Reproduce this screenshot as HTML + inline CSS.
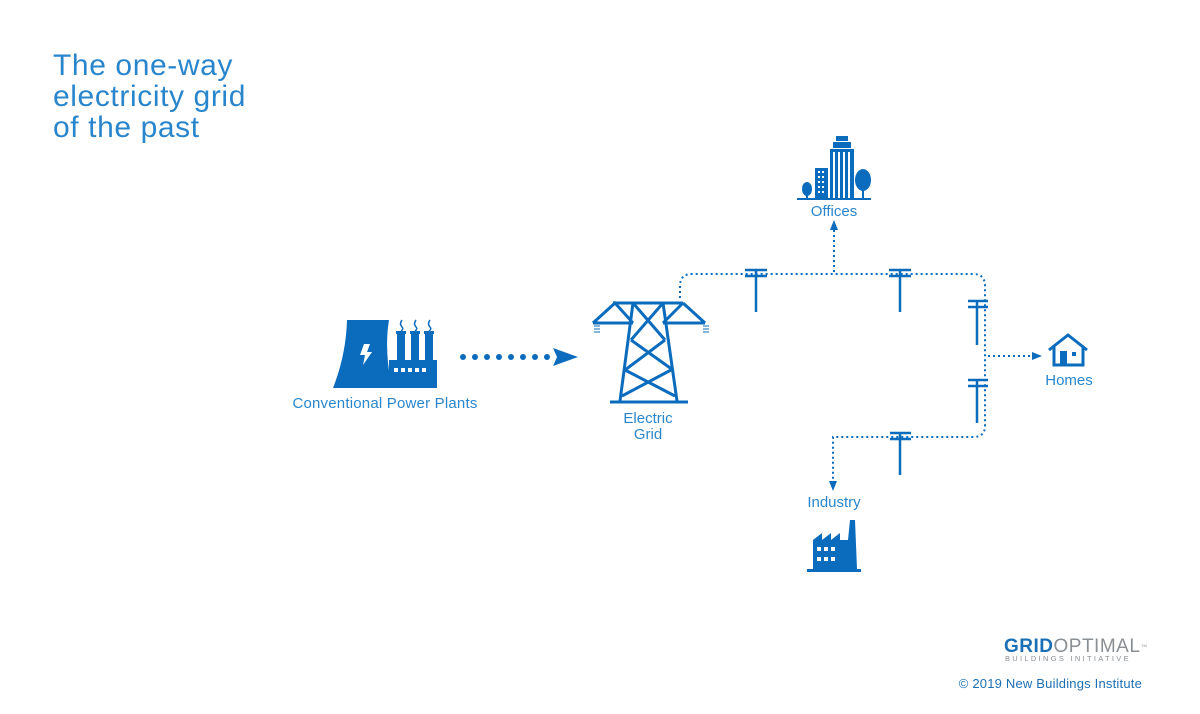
<!DOCTYPE html>
<html><head><meta charset="utf-8"><style>
html,body{margin:0;padding:0;background:#fff;}
svg{display:block;}
text{font-family:"Liberation Sans",Arial,sans-serif;}
</style></head><body>
<svg width="1200" height="714" viewBox="0 0 1200 714" xmlns="http://www.w3.org/2000/svg">
<g fill="#2a86cc" font-size="30" letter-spacing="0.6">
<text x="53" y="75">The one-way</text>
<text x="53" y="106">electricity grid</text>
<text x="53" y="137">of the past</text>
</g>

<!-- power plant -->
<g fill="#0b6cbd">
<path d="M347 320 L389 320 Q384 350 392 388 L333 388 Q346 355 347 320 Z"/>
<rect x="389" y="360" width="48" height="28"/>
<rect x="397" y="332" width="8" height="30"/>
<rect x="411" y="332" width="8" height="30"/>
<rect x="425" y="332" width="8" height="30"/>
<rect x="396" y="331" width="10" height="3"/>
<rect x="410" y="331" width="10" height="3"/>
<rect x="424" y="331" width="10" height="3"/>
</g>
<g fill="none" stroke="#0b6cbd" stroke-width="1.5">
<path d="M402 320 q-3 4 0 7 q2 2 -1 4"/>
<path d="M416 320 q-3 4 0 7 q2 2 -1 4"/>
<path d="M430 320 q-3 4 0 7 q2 2 -1 4"/>
</g>
<g fill="#fff">
<path d="M364 344 L370 344 L367 352 L372 352 L363 365 L365 355 L360 355 Z"/>
<rect x="394" y="368" width="4" height="4"/><rect x="401" y="368" width="4" height="4"/><rect x="408" y="368" width="4" height="4"/><rect x="415" y="368" width="4" height="4"/><rect x="422" y="368" width="4" height="4"/>
</g>
<text x="385" y="408" font-size="15" fill="#2a86cc" text-anchor="middle" letter-spacing="0.2">Conventional Power Plants</text>

<!-- big dotted arrow -->
<g fill="#0b6cbd">
<circle cx="463" cy="357" r="3"/><circle cx="475" cy="357" r="3"/><circle cx="487" cy="357" r="3"/><circle cx="499" cy="357" r="3"/><circle cx="511" cy="357" r="3"/><circle cx="523" cy="357" r="3"/><circle cx="535" cy="357" r="3"/><circle cx="547" cy="357" r="3"/>
<path d="M553 348 L578 357 L553 366 L557 357 Z"/>
</g>

<!-- tower -->
<g fill="none" stroke="#0b6cbd" stroke-width="3" stroke-linejoin="miter">
<path d="M613 303 L683 303"/>
<path d="M593 323 L615 303 L633 323 M683 303 L705 323 M663 323 L683 303"/>
<path d="M593 323 L633 323 M663 323 L705 323"/>
<path d="M633 303 L620 401 M663 303 L677 401"/>
<path d="M633 303 L665 340 M663 303 L631 340"/>
<path d="M631 340 L673 370 M665 340 L625 370"/>
<path d="M625 370 L675 396 M671 370 L622 396"/>
<path d="M610 402 L688 402"/>
</g>
<g stroke="#0b6cbd" stroke-width="1">
<path d="M594 326h6M594 329h6M594 332h6M703 326h6M703 329h6M703 332h6"/>
</g>
<g font-size="15" fill="#2a86cc" text-anchor="middle">
<text x="648" y="423">Electric</text>
<text x="648" y="439">Grid</text>
</g>

<!-- dotted grid lines -->
<g fill="none" stroke="#0b6cbd" stroke-width="2" stroke-dasharray="2 3">
<path d="M680 298 L680 286 Q680 274 692 274 L973 274 Q985 274 985 286 L985 426 Q985 437 973 437 L833 437 L833 482"/>
<path d="M834 272 L834 228"/>
<path d="M988 356 L1034 356"/>
</g>
<g fill="#0b6cbd">
<path d="M830 230 L834 220 L838 230 Z"/>
<path d="M1032 352 L1042 356 L1032 360 Z"/>
<path d="M829 481 L833 491 L837 481 Z"/>
</g>
<!-- poles -->
<g stroke="#0b6cbd" stroke-width="2.5">
<path d="M745 270h22M745 276h22M756 270v42"/>
<path d="M889 270h22M889 276h22M900 270v42"/>
<path d="M968 301h20M968 307h20M977 301v44"/>
<path d="M968 380h20M968 386h20M977 380v43"/>
<path d="M890 433h21M890 439h21M900 433v42"/>
</g>

<!-- offices -->
<g fill="#0b6cbd">
<rect x="797" y="198" width="74" height="2"/>
<rect x="836" y="136" width="12" height="5"/>
<rect x="833" y="142" width="18" height="6"/>
<rect x="830" y="149" width="24" height="49"/>
<rect x="815" y="168" width="13" height="30"/>
<ellipse cx="807" cy="189" rx="5" ry="7"/><rect x="806" y="190" width="2" height="8"/>
<ellipse cx="863" cy="180" rx="8" ry="11"/><rect x="862" y="185" width="2" height="13"/>
</g>
<g fill="#fff">
<rect x="833" y="152" width="2" height="46"/><rect x="838" y="152" width="2" height="46"/><rect x="843" y="152" width="2" height="46"/><rect x="848" y="152" width="2" height="46"/>
<rect x="818" y="171" width="2" height="2"/><rect x="822" y="171" width="2" height="2"/>
<rect x="818" y="176" width="2" height="2"/><rect x="822" y="176" width="2" height="2"/>
<rect x="818" y="181" width="2" height="2"/><rect x="822" y="181" width="2" height="2"/>
<rect x="818" y="186" width="2" height="2"/><rect x="822" y="186" width="2" height="2"/>
<rect x="818" y="191" width="2" height="2"/><rect x="822" y="191" width="2" height="2"/>
</g>
<text x="834" y="216" font-size="15" fill="#2a86cc" text-anchor="middle">Offices</text>

<!-- home -->
<g fill="none" stroke="#0b6cbd" stroke-width="3">
<path d="M1049 350 L1068 335 L1087 350"/>
<path d="M1054 346 L1054 365 L1083 365 L1083 346"/>
</g>
<g fill="#0b6cbd"><rect x="1060" y="351" width="7" height="14"/><rect x="1072" y="352" width="4" height="4"/></g>
<text x="1069" y="385" font-size="15" fill="#2a86cc" text-anchor="middle">Homes</text>

<!-- industry -->
<text x="834" y="507" font-size="15" fill="#2a86cc" text-anchor="middle">Industry</text>
<g fill="#0b6cbd">
<path d="M813 569 L813 540 L822 533 L822 540 L831 533 L831 540 L840 533 L840 540 L848 540 L850 520 L855 520 L857 569 Z"/>
<rect x="807" y="569" width="54" height="3"/>
</g>
<g fill="#fff">
<rect x="817" y="547" width="4" height="4"/><rect x="824" y="547" width="4" height="4"/><rect x="831" y="547" width="4" height="4"/>
<rect x="817" y="557" width="4" height="4"/><rect x="824" y="557" width="4" height="4"/><rect x="831" y="557" width="4" height="4"/>
</g>

<!-- logo -->
<text x="1004" y="652" font-size="19" font-weight="bold" fill="#1b6fb5" letter-spacing="0.5">GRID<tspan font-weight="normal" fill="#8a8f94">OPTIMAL</tspan></text>
<text x="1141" y="647" font-size="4" fill="#8a8f94">TM</text>
<text x="1005" y="661" font-size="7.5" fill="#8a8f94" letter-spacing="2.3">BUILDINGS INITIATIVE</text>
<text x="1142" y="688" font-size="13" fill="#1b6fb5" text-anchor="end" letter-spacing="0.2">© 2019 New Buildings Institute</text>
</svg>
</body></html>
